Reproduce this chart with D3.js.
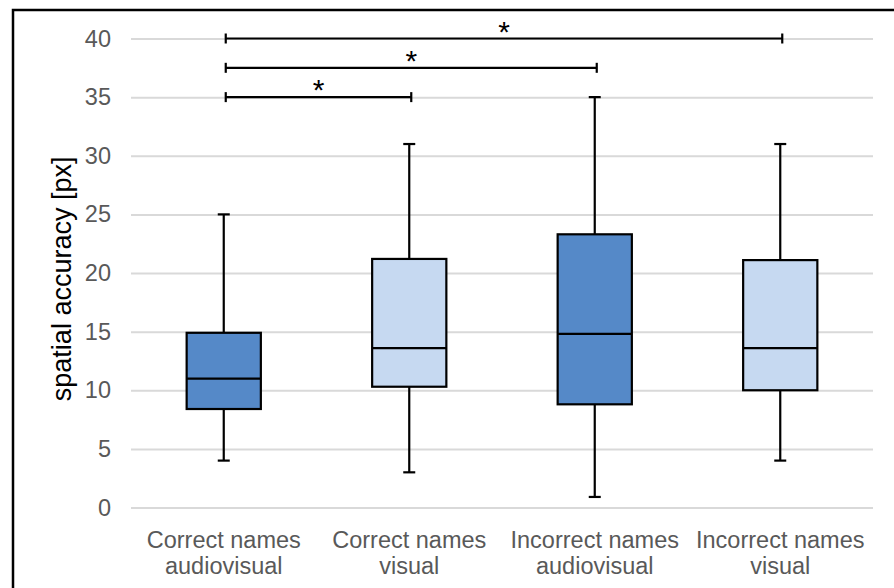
<!DOCTYPE html>
<html>
<head>
<meta charset="utf-8">
<script src="https://cdn.jsdelivr.net/npm/d3@7"></script>
<style>
  body { margin: 0; background: #fff; }
  text { font-family: "Liberation Sans", Arial, sans-serif; }
</style>
</head>
<body>
<div id="chart"></div>
<script>
// categories, two lines each
var categories = [
    ["Correct names", "audiovisual"],
    ["Correct names", "visual"],
    ["Incorrect names", "audiovisual"],
    ["Incorrect names", "visual"]
];
// five-number summaries
var whiskerLow  = [4, 3, 0.9, 4];
var q1          = [8.4, 10.3, 8.8, 10];
var median      = [11, 13.6, 14.8, 13.6];
var q3          = [14.9, 21.2, 23.3, 21.1];
var whiskerHigh = [25, 31, 35, 31];
var boxFill = ["#5589c8", "#c6d9f1", "#5589c8", "#c6d9f1"];

// significance brackets: [from category, to category, level]
var brackets = [[0, 1, 35], [0, 2, 37.5], [0, 3, 40]];
var yTicks = [0, 5, 10, 15, 20, 25, 30, 35, 40];

var width = 894, height = 588;
var margin = {top: 38.5, right: 21, bottom: 80.5, left: 131};

var svg = d3.select("#chart").append("svg")
    .attr("width", width)
    .attr("height", height);

// outer frame (only left and top edges are inside the picture)
svg.append("rect")
    .attr("x", 13).attr("y", 10)
    .attr("width", width + 20).attr("height", height + 20)
    .attr("fill", "none")
    .attr("stroke", "#000")
    .attr("stroke-width", 2.5);

var y = d3.scaleLinear()
    .domain([0, 40])
    .range([height - margin.bottom, margin.top]);

var x = d3.scaleBand()
    .domain(d3.range(categories.length))
    .range([margin.left, width - margin.right])
    .paddingInner(0.6)
    .paddingOuter(0.3);

// gridlines + tick labels
var yAxis = svg.append("g")
    .attr("transform", "translate(" + margin.left + ",0)")
    .call(d3.axisLeft(y).tickValues(yTicks).tickSize(-(width - margin.left - margin.right)).tickPadding(20));
yAxis.select(".domain").remove();
yAxis.selectAll(".tick line").attr("stroke", "#d9d9d9").attr("stroke-width", 2);
yAxis.selectAll(".tick text")
    .attr("fill", "#595959")
    .style("font-size", "23.5px")
    .style("font-family", '"Liberation Sans", Arial, sans-serif');

// category labels
var xl = svg.append("g");
categories.forEach(function(c, i) {
    var t = xl.append("text")
        .attr("x", x(i) + x.bandwidth() / 2)
        .attr("y", 548)
        .attr("text-anchor", "middle")
        .attr("fill", "#595959")
        .style("font-size", "23.5px");
    t.append("tspan").attr("x", x(i) + x.bandwidth() / 2).text(c[0]);
    t.append("tspan").attr("x", x(i) + x.bandwidth() / 2).attr("dy", 26).text(c[1]);
});

// y label
svg.append("text")
    .attr("transform", "translate(71," + y(19.5) + ") rotate(-90)")
    .attr("text-anchor", "middle")
    .attr("fill", "#000")
    .style("font-size", "27px")
    .text("spatial accuracy [px]");

// boxes
var boxes = svg.append("g");
categories.forEach(function(c, i) {
    var cx = x(i) + x.bandwidth() / 2;
    var g = boxes.append("g");
    // whiskers
    g.append("line").attr("x1", cx).attr("x2", cx)
        .attr("y1", y(q3[i])).attr("y2", y(whiskerHigh[i]));
    g.append("line").attr("x1", cx).attr("x2", cx)
        .attr("y1", y(q1[i])).attr("y2", y(whiskerLow[i]));
    g.append("line").attr("x1", cx - 6).attr("x2", cx + 6)
        .attr("y1", y(whiskerHigh[i])).attr("y2", y(whiskerHigh[i]));
    g.append("line").attr("x1", cx - 6).attr("x2", cx + 6)
        .attr("y1", y(whiskerLow[i])).attr("y2", y(whiskerLow[i]));
    g.append("rect")
        .attr("x", x(i)).attr("width", x.bandwidth())
        .attr("y", y(q3[i])).attr("height", y(q1[i]) - y(q3[i]))
        .attr("fill", boxFill[i]);
    g.append("line").attr("x1", x(i)).attr("x2", x(i) + x.bandwidth())
        .attr("y1", y(median[i])).attr("y2", y(median[i]));
    g.selectAll("line, rect").attr("stroke", "#000").attr("stroke-width", 2.2);
});

// significance brackets
var sig = svg.append("g").attr("stroke", "#000").attr("stroke-width", 2.2);
brackets.forEach(function(b) {
    var x0 = x(b[0]) + x.bandwidth() / 2 + 2;
    var x1 = x(b[1]) + x.bandwidth() / 2 + 2;
    var yy = y(b[2]);
    sig.append("line").attr("x1", x0).attr("x2", x1).attr("y1", yy).attr("y2", yy);
    sig.append("line").attr("x1", x0).attr("x2", x0).attr("y1", yy - 5).attr("y2", yy + 5);
    sig.append("line").attr("x1", x1).attr("x2", x1).attr("y1", yy - 5).attr("y2", yy + 5);
    svg.append("text")
        .attr("x", (x0 + x1) / 2)
        .attr("y", yy + 3)
        .attr("text-anchor", "middle")
        .attr("fill", "#000")
        .style("font-size", "30px")
        .text("*");
});
</script>
</body>
</html>
